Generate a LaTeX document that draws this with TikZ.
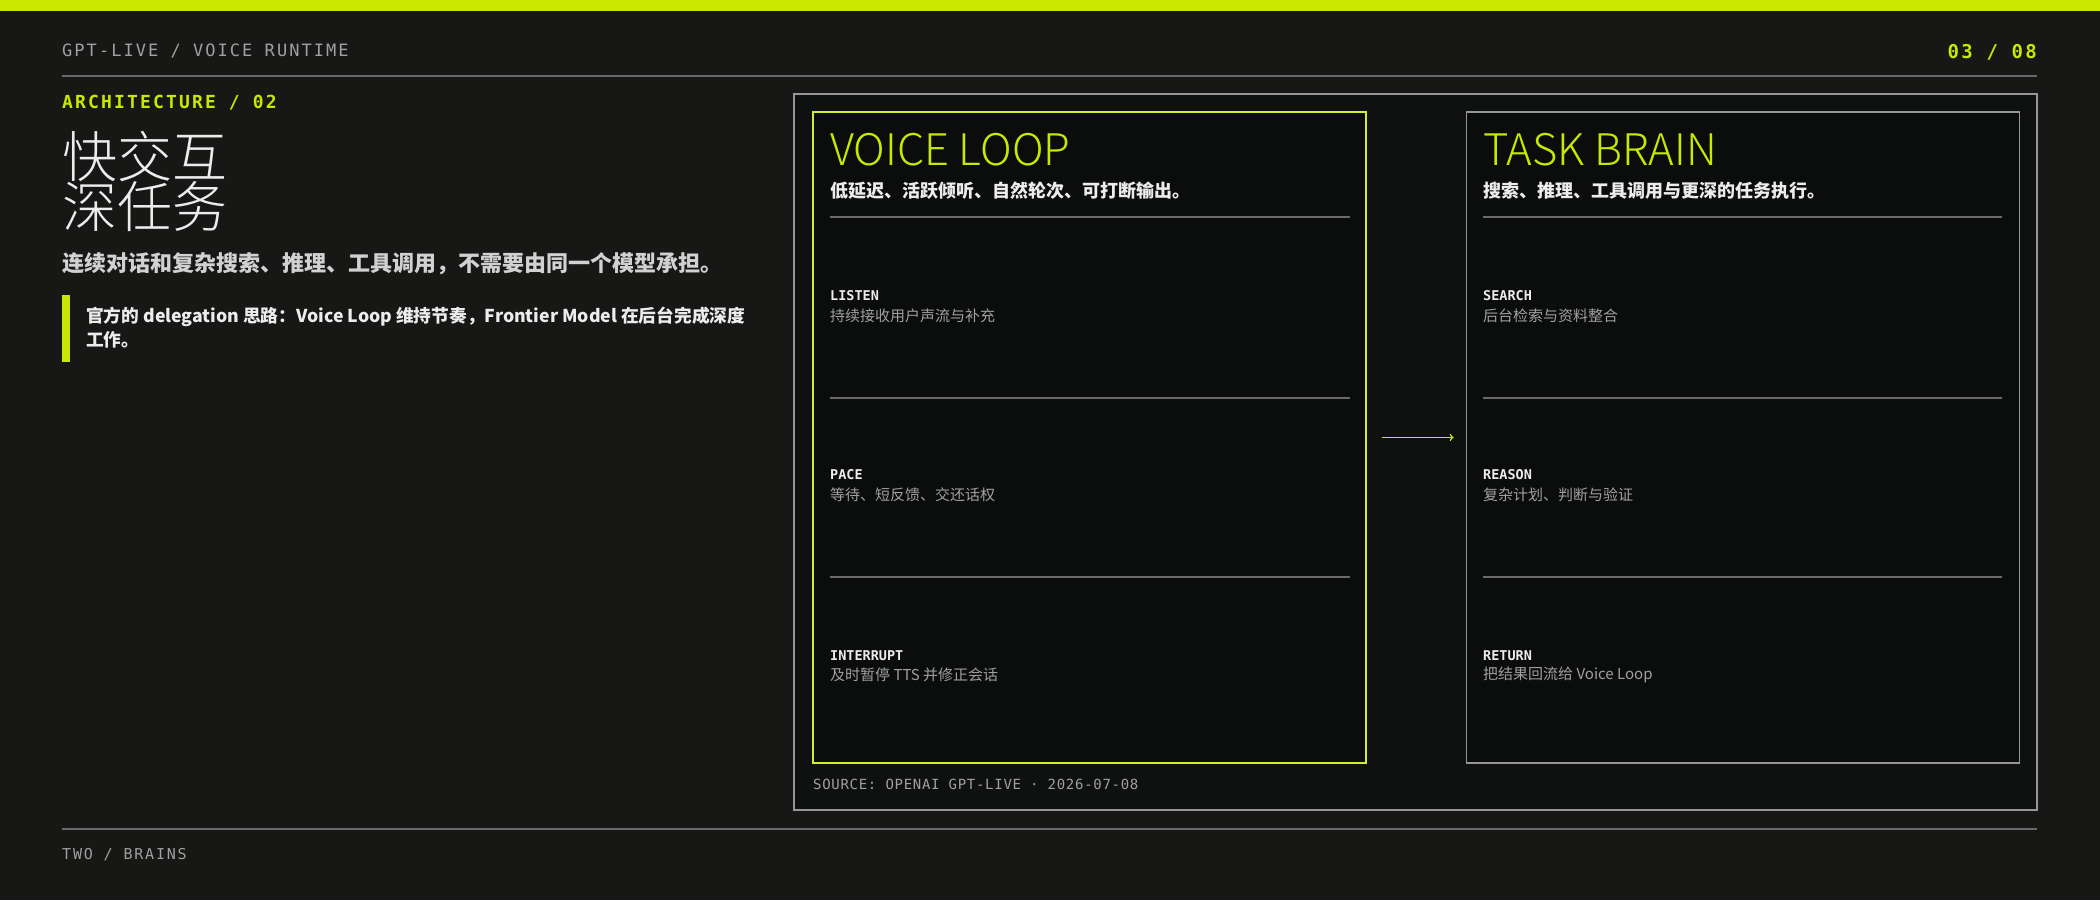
\documentclass[tikz,border=0pt]{standalone}
\usepackage{fontspec}
\setmainfont{Noto Sans CJK SC}
\newfontfamily\lightfont{Noto Sans CJK SC Light}
\newfontfamily\monofont[LetterSpace=12]{DejaVu Sans Mono}
\newfontfamily\labelfont{DejaVu Sans Mono}
\usetikzlibrary{positioning,arrows}

\definecolor{pagebg}{RGB}{23,24,22}
\definecolor{panelbg}{RGB}{15,16,16}
\definecolor{boxbg}{RGB}{11,12,12}
\definecolor{lime}{RGB}{200,232,0}
\definecolor{rulegray}{RGB}{105,105,105}
\definecolor{framegray}{RGB}{150,150,150}
\definecolor{softwhite}{RGB}{236,236,236}
\definecolor{midgray}{RGB}{160,160,160}

\begin{document}
\begin{tikzpicture}
        [
            x=1pt, y=-1pt,
            kicker/.style={anchor=west, inner sep=0pt, text=midgray, font=\monofont\fontsize{17}{20}\selectfont},
            pagenum/.style={anchor=east, inner sep=0pt, text=lime, font=\monofont\bfseries\fontsize{19}{20}\selectfont},
            section/.style={anchor=west, inner sep=0pt, text=lime, font=\monofont\bfseries\fontsize{18}{20}\selectfont},
            bigtitle/.style={anchor=west, inner sep=0pt, text=softwhite, font=\lightfont\fontsize{55}{55}\selectfont},
            lead/.style={anchor=west, inner sep=0pt, text=white!82!black, font=\bfseries\fontsize{22}{26}\selectfont},
            quote/.style={anchor=west, inner sep=0pt, align=left, text=softwhite, font=\bfseries\fontsize{17.7}{24}\selectfont},
            panel/.style={rectangle, draw=framegray, fill=panelbg, line width=1.3pt, minimum width=1243pt, minimum height=716pt},
            voicebox/.style={rectangle, draw=lime!80!white, fill=boxbg, line width=1.2pt, minimum width=553pt, minimum height=651pt},
            brainbox/.style={rectangle, draw=framegray, fill=boxbg, line width=1.2pt, minimum width=553pt, minimum height=651pt},
            boxtitle/.style={anchor=west, inner sep=0pt, text=lime, font=\lightfont\fontsize{43.5}{50}\selectfont},
            boxsub/.style={anchor=west, inner sep=0pt, text=softwhite, font=\bfseries\fontsize{18}{20}\selectfont},
            steplabel/.style={anchor=west, inner sep=0pt, text=softwhite, font=\labelfont\bfseries\fontsize{13.5}{16}\selectfont},
            stepdesc/.style={anchor=west, inner sep=0pt, text=midgray, font=\fontsize{15}{18}\selectfont},
            source/.style={anchor=west, inner sep=0pt, text=midgray, font=\labelfont\addfontfeature{LetterSpace=5}\fontsize{14}{16}\selectfont},
            rule/.style={draw=rulegray, line width=1.2pt},
            link/.style={->, draw=lime, line width=1.5pt, shorten <=15pt, shorten >=12pt},
        ]

        %Fundo
        \fill[pagebg] (0,0) rectangle (2100,900);
        \useasboundingbox (0,0) rectangle (2100,900);
        \fill[lime] (0,0) rectangle (2100,11);

        %Cabecalho
        \node[kicker]       (runtime)                               at (62,51)      {GPT-LIVE / VOICE RUNTIME};
        \node[pagenum]      (pagina)                                at (2037,52)    {03 / 08};
        \draw[rule] (62,76) -- (2037,76);

        %Esquerda
        \node[section]      (secao)                                 at (62,103)     {ARCHITECTURE / 02};
        \node[bigtitle]     (fast)                                  at (62,156)     {快交互};
        \node[bigtitle]     (deep)      [below=0pt of fast]                         {深任务};
        \node[lead]         (lead)                                  at (62,264)     {连续对话和复杂搜索、推理、工具调用，不需要由同一个模型承担。};
        \fill[lime] (62,295) rectangle (70,362);
        \node[quote]        (citacao)                               at (86,328)     {官方的 delegation 思路：Voice Loop 维持节奏，Frontier Model 在后台完成深度\\工作。};

        %Painel
        \node[panel]        (painel)                                at (1415.5,452) {};
        \node[voicebox]     (voice)                                 at (1089.5,437.5) {};
        \node[brainbox]     (brain)     [right=99pt of voice]                       {};

        %Voice Loop
        \node[boxtitle]     (voicetitle)                            at (830,150)    {VOICE LOOP};
        \node[boxsub]       (voicesub)                              at (830,191)    {低延迟、活跃倾听、自然轮次、可打断输出。};
        \draw[rule] (830,217) -- (1350,217);
        \node[steplabel]    (listen)                                at (830,296)    {LISTEN};
        \node[stepdesc]     (listendesc)                            at (830,316)    {持续接收用户声流与补充};
        \draw[rule] (830,398) -- (1350,398);
        \node[steplabel]    (pace)                                  at (830,475)    {PACE};
        \node[stepdesc]     (pacedesc)                              at (830,495)    {等待、短反馈、交还话权};
        \draw[rule] (830,577) -- (1350,577);
        \node[steplabel]    (interrupt)                             at (830,656)    {INTERRUPT};
        \node[stepdesc]     (interruptdesc)                         at (830,675)    {及时暂停 TTS 并修正会话};

        %Task Brain
        \node[boxtitle]     (braintitle)                            at (1483,150)   {TASK BRAIN};
        \node[boxsub]       (brainsub)                              at (1483,191)   {搜索、推理、工具调用与更深的任务执行。};
        \draw[rule] (1483,217) -- (2002,217);
        \node[steplabel]    (search)                                at (1483,296)   {SEARCH};
        \node[stepdesc]     (searchdesc)                            at (1483,316)   {后台检索与资料整合};
        \draw[rule] (1483,398) -- (2002,398);
        \node[steplabel]    (reason)                                at (1483,475)   {REASON};
        \node[stepdesc]     (reasondesc)                            at (1483,495)   {复杂计划、判断与验证};
        \draw[rule] (1483,577) -- (2002,577);
        \node[steplabel]    (return)                                at (1483,656)   {RETURN};
        \node[stepdesc]     (returndesc)                            at (1483,675)   {把结果回流给 Voice Loop};

        %Linhas
        \draw[link] (voice.east) -- (brain.west);
        \node[source]       (fonte)                                 at (813,784)    {SOURCE: OPENAI GPT-LIVE · 2026-07-08};

        %Rodape
        \draw[rule] (62,829) -- (2037,829);
        \node[kicker, font=\monofont\fontsize{15}{18}\selectfont] (rodape) at (62,855) {TWO / BRAINS};
    \end{tikzpicture}
\end{document}
